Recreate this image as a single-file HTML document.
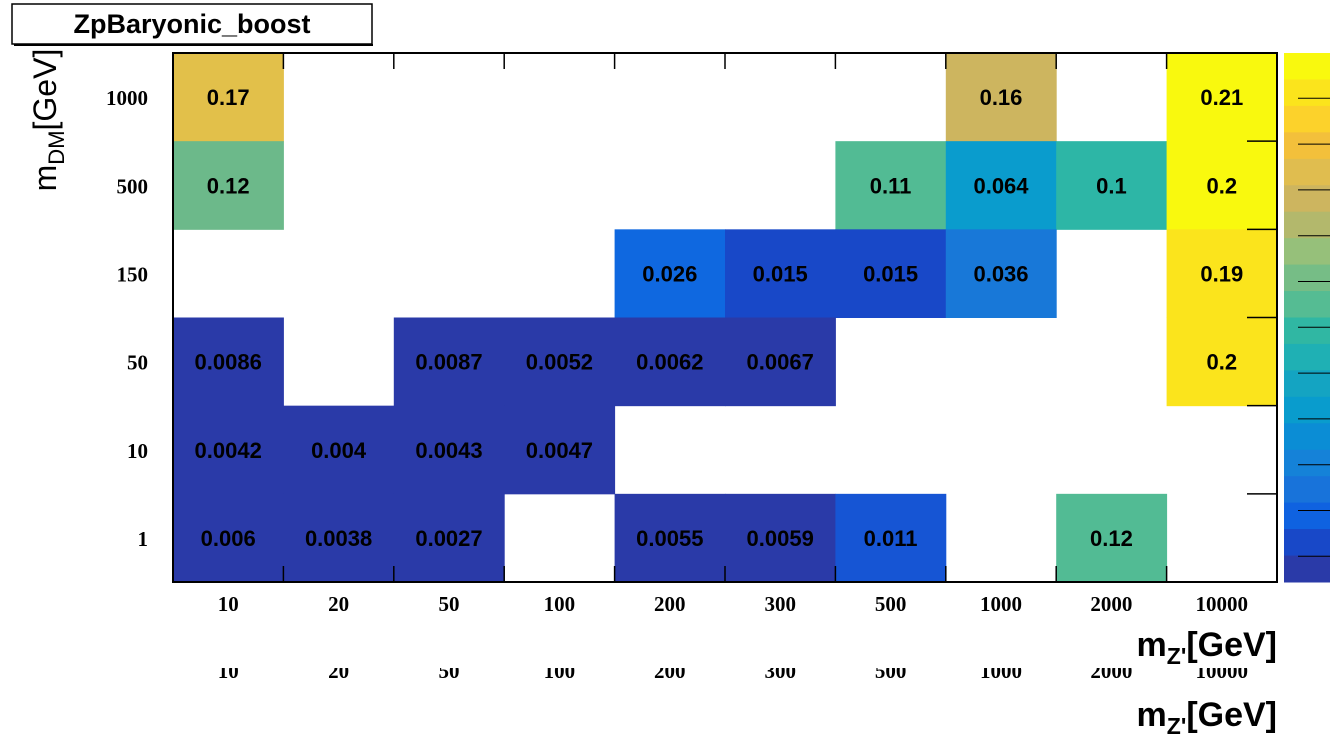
<!DOCTYPE html>
<html><head><meta charset="utf-8"><style>
body{margin:0;background:#fff;width:1331px;height:742px;overflow:hidden}
svg{display:block}
</style></head><body>
<svg id="c" width="1331" height="742" font-family="Liberation Sans, sans-serif">
<rect x="12" y="4" width="360" height="40" fill="#fff" stroke="#000" stroke-width="1.5"/>
<line x1="14" y1="45" x2="373" y2="45" stroke="#000" stroke-width="2"/>
<text x="192" y="33" text-anchor="middle" font-weight="bold" font-size="27">ZpBaryonic_boost</text>
<g id="cells"></g>
<g id="ticks"></g>
<rect x="173" y="53" width="1104" height="529" fill="none" stroke="#000" stroke-width="2"/>
<g id="pal"></g>
<text transform="translate(56,120) rotate(-90)" text-anchor="middle" font-size="32">m<tspan font-size="22" dy="8">DM</tspan><tspan dy="-8">[GeV]</tspan></text>
<text x="1277" y="656" text-anchor="end" font-weight="bold" font-size="34">m<tspan font-size="23" dy="8">Z'</tspan><tspan dy="-8">[GeV]</tspan></text>
<svg x="0" y="668" width="1331" height="14"><g id="ghost"></g></svg>
<text x="1277" y="726" text-anchor="end" font-weight="bold" font-size="34">m<tspan font-size="23" dy="8">Z'</tspan><tspan dy="-8">[GeV]</tspan></text>
</svg>
<script>
const xCats=["10","20","50","100","200","300","500","1000","2000","10000"];
const yCats=["1","10","50","150","500","1000"];
// cells: [xIndex, yIndex, value]
const cellX=[0,7,9, 0,6,7,8,9, 4,5,6,7,9, 0,2,3,4,5,9, 0,1,2,3, 0,1,2,4,5,6,8];
const cellY=[5,5,5, 4,4,4,4,4, 3,3,3,3,3, 2,2,2,2,2,2, 1,1,1,1, 0,0,0,0,0,0,0];
const cellV=["0.17","0.16","0.21","0.12","0.11","0.064","0.1","0.2","0.026","0.015","0.015","0.036","0.19","0.0086","0.0087","0.0052","0.0062","0.0067","0.2","0.0042","0.004","0.0043","0.0047","0.006","0.0038","0.0027","0.0055","0.0059","0.011","0.12"];
const palColors=["#f9f90e","#fbe41c","#fcd22b","#f3c03b","#e0bd4f","#cdb55f","#b3b86c","#96c07a","#76bd86","#55bc93","#30b7a3","#1fb0b4","#14a4c2","#099ccd","#0b8dd5","#1582d8","#1873da","#0f62e0","#1848c8","#2a3aa8"];
const zMin=0.0,zMax=0.215;
const X0=173,X1=1277,Y0=53,Y1=582;
const cw=(X1-X0)/xCats.length, ch=(Y1-Y0)/yCats.length;
const xs=i=>X0+i*cw, ys=j=>Y1-(j+1)*ch;
function col(v){
  let t=v<0.01?0:Math.min(1,v/zMax);
  let idx=palColors.length-1-Math.floor(t*palColors.length);
  if(idx<0) idx=0;
  return palColors[idx];
}
const NS="http://www.w3.org/2000/svg";
const mk=(t,a,p)=>{const e=document.createElementNS(NS,t);for(const k in a)e.setAttribute(k,a[k]);p.appendChild(e);return e;};
const gc=document.getElementById('cells');
const override={"0.17":"#e2c04a","0.16":"#cdb55f","0.12":"#6cb98a","0.11":"#52bb94","0.064":"#0a9ccd","0.1":"#2db6a6","0.19":"#fbe41c","0.026":"#0f68e0","0.036":"#1878d8","0.015":"#1848c8","0.011":"#1655d4"};
for(let k=0;k<cellV.length;k++){
  const v=cellV[k];
  let c=override[v]||col(parseFloat(v));
  if(v==="0.2") c=(cellY[k]===4)?"#f9f90e":"#fbe41c";
  if(v==="0.12"&&cellY[k]===0) c="#52bb94";
  const r=mk('rect',{x:xs(cellX[k]),y:ys(cellY[k]),width:cw+0.5,height:ch+0.5,fill:c},gc);
  
  
  const t=mk('text',{x:xs(cellX[k])+cw/2,y:ys(cellY[k])+ch/2+8,'text-anchor':'middle','font-weight':'bold','font-size':'22'},gc);
  t.textContent=v;
  
  
}
const gt=document.getElementById('ticks');
for(let i=0;i<xCats.length;i++){
  if(i>0){mk('line',{x1:xs(i),y1:Y0,x2:xs(i),y2:Y0+16,stroke:'#000','stroke-width':1.5},gt);
  mk('line',{x1:xs(i),y1:Y1,x2:xs(i),y2:Y1-16,stroke:'#000','stroke-width':1.5},gt);}
  const t=mk('text',{x:xs(i)+cw/2,y:611,'text-anchor':'middle','font-family':'Liberation Serif, serif','font-weight':'bold','font-size':'21'},gt);
  t.textContent=xCats[i];
  
  
}
for(let j=0;j<yCats.length;j++){
  if(j>0){mk('line',{x1:X1,y1:ys(j)+ch,x2:X1-30,y2:ys(j)+ch,stroke:'#000','stroke-width':1.5},gt);}
  const t=mk('text',{x:148,y:ys(j)+ch/2+8,'text-anchor':'end','font-family':'Liberation Serif, serif','font-weight':'bold','font-size':'21'},gt);
  t.textContent=yCats[j];
  
  
}
const gg=document.getElementById('ghost');
for(let i=0;i<xCats.length;i++){
  const t=mk('text',{x:xs(i)+cw/2,y:10,'text-anchor':'middle','font-family':'Liberation Serif, serif','font-weight':'bold','font-size':'21'},gg);
  t.textContent=xCats[i];
  
  
}
const gp=document.getElementById('pal');
const ph=(Y1-Y0)/palColors.length;
for(let k=0;k<palColors.length;k++){
  const r=mk('rect',{x:1284,y:Y0+k*ph,width:46,height:ph+0.5,fill:palColors[k]},gp);
  
  
}
for(let k=1;k<12;k++){
  mk('line',{x1:1298,y1:Y0+k*45.8-0.5,x2:1330,y2:Y0+k*45.8-0.5,stroke:'#000','stroke-width':1},gp);
}
</script>
</body></html>
